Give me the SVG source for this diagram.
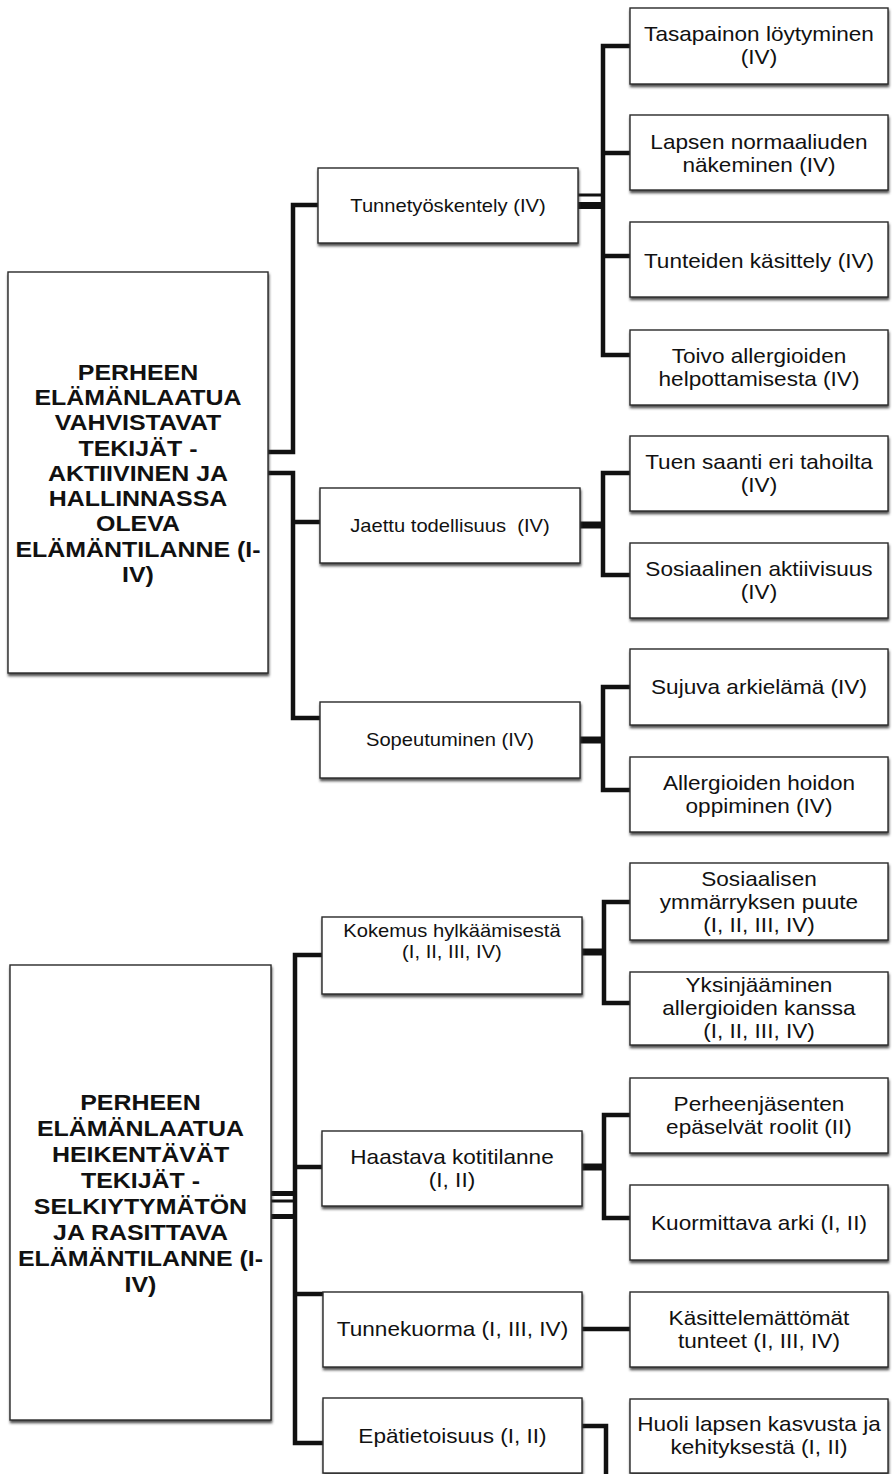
<svg xmlns="http://www.w3.org/2000/svg" width="892" height="1474" viewBox="0 0 892 1474">
<defs>
<filter id="sh" x="-5%" y="-5%" width="110%" height="115%">
<feDropShadow dx="0.6" dy="2.5" stdDeviation="1" flood-color="#333" flood-opacity="0.85"/>
</filter>
<style>
.box{fill:#fff;stroke:#2a2a2a;stroke-width:1.4;filter:url(#sh)}
.t{font-family:"Liberation Sans",Arial,sans-serif;fill:#111;text-anchor:middle;transform-box:fill-box;transform-origin:center}
.big{font-size:20px;transform:scaleX(1.13)}
.mid{font-size:18px;transform:scaleX(1.12)}
.hd{font-size:21.5px;font-weight:bold;transform:scaleX(1.16)}
.pre{white-space:pre}
.c{fill:none;stroke:#111;stroke-width:4.5;stroke-linejoin:miter;stroke-linecap:butt}
.ck{stroke-width:7}
.cn{stroke-width:3}
</style>
</defs>
<rect width="892" height="1474" fill="#fff"/>

<g id="connectors">
<path class="c" d="M268,452 H293 V205 H318"/>
<path class="c" d="M268,473 H293 V718 H320"/>
<path class="c" d="M293,522 H320"/>
<path class="c cn" d="M578,195 H603"/>
<path class="c ck" d="M578,205.5 H603"/>
<path class="c" d="M630,46 H603 V355 H630"/>
<path class="c" d="M603,153 H630"/>
<path class="c" d="M603,256 H630"/>
<path class="c ck" d="M580,525 H603"/>
<path class="c" d="M630,473 H603 V575 H630"/>
<path class="c ck" d="M580,740 H603"/>
<path class="c" d="M630,687 H603 V790 H630"/>

<path class="c" d="M322,955 H295 V1443 H323"/>
<path class="c" d="M295,1167 H322"/>
<path class="c" d="M295,1294 H323"/>
<path class="c" style="stroke-width:5" d="M271,1193.5 H295"/>
<path class="c cn" d="M271,1201 H295"/>
<path class="c" style="stroke-width:5" d="M271,1216.5 H295"/>
<path class="c ck" d="M582,952 H604"/>
<path class="c" d="M630,902 H604 V1003 H630"/>
<path class="c ck" d="M582,1167 H604"/>
<path class="c" d="M630,1115 H604 V1218 H630"/>
<path class="c" d="M582,1329 H630"/>
<path class="c" d="M582,1426 H606 V1476"/>
</g>

<g id="n-vahvistavat">
<rect class="box" x="8" y="272" width="260" height="401"/>
<text class="t hd" x="138" y="380"><tspan x="138" y="380">PERHEEN</tspan><tspan x="138" y="405.25">ELÄMÄNLAATUA</tspan><tspan x="138" y="430.5">VAHVISTAVAT</tspan><tspan x="138" y="455.75">TEKIJÄT -</tspan><tspan x="138" y="481">AKTIIVINEN JA</tspan><tspan x="138" y="506.25">HALLINNASSA</tspan><tspan x="138" y="531.5">OLEVA</tspan><tspan x="138" y="556.75">ELÄMÄNTILANNE (I-</tspan><tspan x="138" y="582">IV)</tspan></text>
</g>

<g id="n-tunnetyoskentely">
<rect class="box" x="318" y="168" width="260" height="75"/>
<text class="t mid" x="448" y="212">Tunnetyöskentely (IV)</text>
</g>
<g id="n-jaettu">
<rect class="box" x="320" y="488" width="260" height="75"/>
<text class="t mid pre" x="450" y="532">Jaettu todellisuus  (IV)</text>
</g>
<g id="n-sopeutuminen">
<rect class="box" x="320" y="702" width="260" height="76"/>
<text class="t mid" x="450" y="746">Sopeutuminen (IV)</text>
</g>

<g id="n-tasapainon">
<rect class="box" x="630" y="8" width="258" height="76"/>
<text class="t big" x="759" y="41.5"><tspan x="759" y="41.5">Tasapainon löytyminen</tspan><tspan x="759" y="64.5">(IV)</tspan></text>
</g>
<g id="n-lapsen">
<rect class="box" x="630" y="115" width="258" height="75"/>
<text class="t big" x="759" y="149"><tspan x="759" y="149">Lapsen normaaliuden</tspan><tspan x="759" y="172">näkeminen (IV)</tspan></text>
</g>
<g id="n-tunteiden">
<rect class="box" x="630" y="222" width="258" height="75"/>
<text class="t big" x="759" y="268">Tunteiden käsittely (IV)</text>
</g>
<g id="n-toivo">
<rect class="box" x="630" y="330" width="258" height="75"/>
<text class="t big" x="759" y="363"><tspan x="759" y="363">Toivo allergioiden</tspan><tspan x="759" y="386">helpottamisesta (IV)</tspan></text>
</g>
<g id="n-tuen">
<rect class="box" x="630" y="436" width="258" height="75"/>
<text class="t big" x="759" y="469.5"><tspan x="759" y="469.5">Tuen saanti eri tahoilta</tspan><tspan x="759" y="492.5">(IV)</tspan></text>
</g>
<g id="n-sosiaalinen">
<rect class="box" x="630" y="543" width="258" height="75"/>
<text class="t big" x="759" y="576.5"><tspan x="759" y="576.5">Sosiaalinen aktiivisuus</tspan><tspan x="759" y="599.5">(IV)</tspan></text>
</g>
<g id="n-sujuva">
<rect class="box" x="630" y="649" width="258" height="76"/>
<text class="t big" x="759" y="694">Sujuva arkielämä (IV)</text>
</g>
<g id="n-allergioiden">
<rect class="box" x="630" y="757" width="258" height="75"/>
<text class="t big" x="759" y="790.5"><tspan x="759" y="790.5">Allergioiden hoidon</tspan><tspan x="759" y="813.5">oppiminen (IV)</tspan></text>
</g>

<g id="n-heikentavat">
<rect class="box" x="10" y="965" width="261" height="455"/>
<text class="t hd" x="140.5" y="1110"><tspan x="140.5" y="1110">PERHEEN</tspan><tspan x="140.5" y="1136">ELÄMÄNLAATUA</tspan><tspan x="140.5" y="1162">HEIKENTÄVÄT</tspan><tspan x="140.5" y="1188">TEKIJÄT -</tspan><tspan x="140.5" y="1214">SELKIYTYMÄTÖN</tspan><tspan x="140.5" y="1240">JA RASITTAVA</tspan><tspan x="140.5" y="1266">ELÄMÄNTILANNE (I-</tspan><tspan x="140.5" y="1292">IV)</tspan></text>
</g>

<g id="n-kokemus">
<rect class="box" x="322" y="917" width="260" height="77"/>
<text class="t mid" x="452" y="937.5"><tspan x="452" y="937.5">Kokemus hylkäämisestä</tspan><tspan x="452" y="958">(I, II, III, IV)</tspan></text>
</g>
<g id="n-haastava">
<rect class="box" x="322" y="1131" width="260" height="75"/>
<text class="t big" x="452" y="1164"><tspan x="452" y="1164">Haastava kotitilanne</tspan><tspan x="452" y="1187">(I, II)</tspan></text>
</g>
<g id="n-tunnekuorma">
<rect class="box" x="323" y="1292" width="259" height="75"/>
<text class="t big" x="452.5" y="1336.5">Tunnekuorma (I, III, IV)</text>
</g>
<g id="n-epatietoisuus">
<rect class="box" x="323" y="1398" width="259" height="75"/>
<text class="t big" x="452.5" y="1443">Epätietoisuus (I, II)</text>
</g>

<g id="n-sosiaalisen">
<rect class="box" x="630" y="863" width="258" height="77"/>
<text class="t big" x="759" y="886"><tspan x="759" y="886">Sosiaalisen</tspan><tspan x="759" y="909">ymmärryksen puute</tspan><tspan x="759" y="932">(I, II, III, IV)</tspan></text>
</g>
<g id="n-yksinjaaminen">
<rect class="box" x="630" y="972" width="258" height="73"/>
<text class="t big" x="759" y="992"><tspan x="759" y="992">Yksinjääminen</tspan><tspan x="759" y="1015">allergioiden kanssa</tspan><tspan x="759" y="1038">(I, II, III, IV)</tspan></text>
</g>
<g id="n-perheenjasenten">
<rect class="box" x="630" y="1078" width="258" height="75"/>
<text class="t big" x="759" y="1111"><tspan x="759" y="1111">Perheenjäsenten</tspan><tspan x="759" y="1134">epäselvät roolit (II)</tspan></text>
</g>
<g id="n-kuormittava">
<rect class="box" x="630" y="1185" width="258" height="75"/>
<text class="t big" x="759" y="1230">Kuormittava arki (I, II)</text>
</g>
<g id="n-kasittelemattomat">
<rect class="box" x="630" y="1292" width="258" height="75"/>
<text class="t big" x="759" y="1325"><tspan x="759" y="1325">Käsittelemättömät</tspan><tspan x="759" y="1348">tunteet (I, III, IV)</tspan></text>
</g>
<g id="n-huoli">
<rect class="box" x="630" y="1399" width="258" height="74"/>
<text class="t big" x="759" y="1431.5"><tspan x="759" y="1431.5">Huoli lapsen kasvusta ja</tspan><tspan x="759" y="1454.5">kehityksestä (I, II)</tspan></text>
</g>
</svg>
